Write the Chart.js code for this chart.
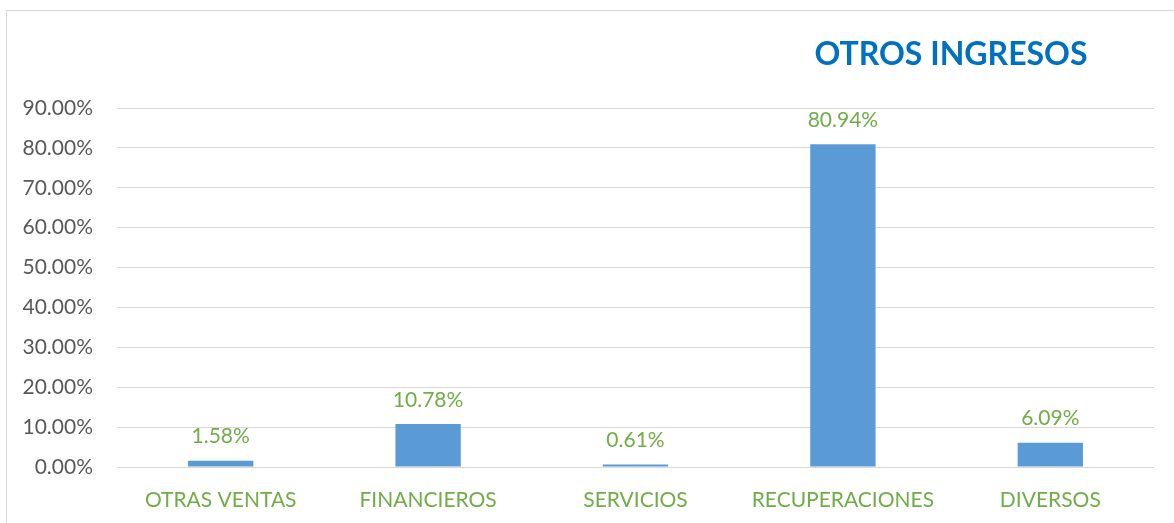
<!DOCTYPE html>
<html>
<head>
<meta charset="utf-8">
<script src="https://cdn.jsdelivr.net/npm/chart.js@4"></script>
<style>
  body { margin: 0; background: #fff; }
  #frame { position: absolute; left: 6px; top: 10px; width: 1200px; height: 600px; border: 1px solid #d9d9d9; }
  #wrap { position: absolute; left: 0; top: 0; width: 1174px; height: 523px; }
</style>
</head>
<body>
<div id="frame"></div>
<div id="wrap"><canvas id="chart"></canvas></div>
<script>
const categories = ["OTRAS VENTAS", "FINANCIEROS", "SERVICIOS", "RECUPERACIONES", "DIVERSOS"];
const shares = [1.58, 10.78, 0.61, 80.94, 6.09];
const yTicks = [0, 10, 20, 30, 40, 50, 60, 70, 80, 90];
const chartTitle = "OTROS INGRESOS";

const FONT = "Lato, 'Open Sans', sans-serif";

// value labels above each bar
const barLabels = {
    id: 'barLabels',
    afterDatasetsDraw(chart) {
        const ctx = chart.ctx;
        const meta = chart.getDatasetMeta(0);
        ctx.save();
        ctx.font = "21px " + FONT;
        ctx.fillStyle = "#70AD47";
        ctx.textAlign = "center";
        ctx.textBaseline = "middle";
        meta.data.forEach(function (bar, i) {
            ctx.fillText(shares[i].toFixed(2) + "%", bar.x, bar.y - 24);
        });
        ctx.restore();
    }
};

// title sits on the right side, like the original
const sideTitle = {
    id: 'sideTitle',
    afterDraw(chart) {
        const ctx = chart.ctx;
        ctx.save();
        ctx.font = "bold 32px " + FONT;
        ctx.fillStyle = "#0070C0";
        ctx.textAlign = "center";
        ctx.textBaseline = "middle";
        ctx.fillText(chartTitle, 951, 55);
        ctx.restore();
    }
};

let ctx = document.getElementById('chart');
let chart = new Chart(ctx, {
    type: 'bar',
    data: {
        labels: categories,
        datasets: [{
            data: shares,
            backgroundColor: "#5B9BD5",
            barPercentage: 0.315,
            categoryPercentage: 1
        }]
    },
    options: {
        responsive: true,
        maintainAspectRatio: false,
        animation: false,
        layout: { padding: { top: 108, right: 20, bottom: 0, left: 0 } },
        plugins: {
            legend: { display: false },
            title: { display: false },
            tooltip: { enabled: false }
        },
        scales: {
            x: {
                grid: { display: false, drawTicks: false },
                border: { display: false },
                ticks: {
                    color: "#70AD47",
                    font: { family: FONT, size: 21 },
                    padding: 21,
                    maxRotation: 0
                },
                afterFit(s) { s.height = 56; }
            },
            y: {
                min: 0,
                max: 90,
                afterBuildTicks(s) { s.ticks = yTicks.map(v => ({ value: v })); },
                grid: { color: "#d9d9d9", lineWidth: 1, drawTicks: false },
                border: { display: false },
                ticks: {
                    color: "#595959",
                    font: { family: FONT, size: 21 },
                    padding: 24,
                    callback: v => v.toFixed(2) + "%"
                },
                afterFit(s) { s.width = 117; }
            }
        }
    },
    plugins: [barLabels, sideTitle]
});
</script>
</body>
</html>
